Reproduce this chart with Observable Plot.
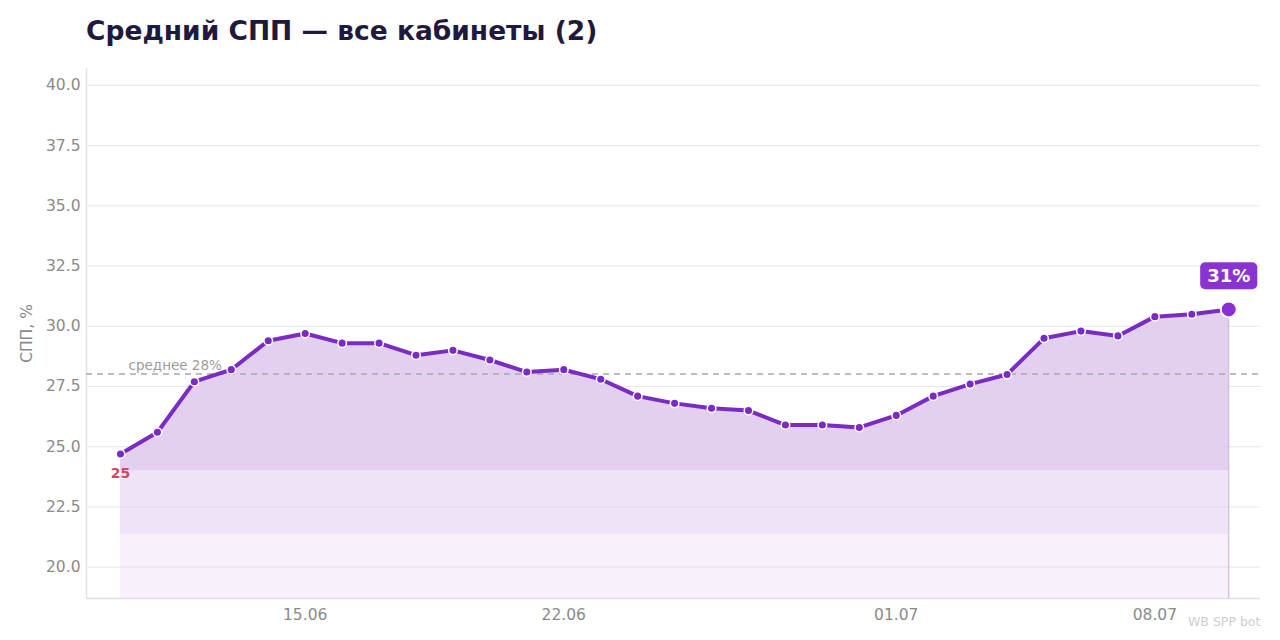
<!DOCTYPE html>
<html><head><meta charset="utf-8">
<script src="https://cdn.jsdelivr.net/npm/d3@7"></script>
<script src="https://cdn.jsdelivr.net/npm/@observablehq/plot@0.6"></script>
<style>
body{margin:0;background:#fff;font-family:"DejaVu Sans",sans-serif;}
#wrap{position:relative;width:1280px;height:640px;overflow:hidden;}
#title{position:absolute;left:86px;top:15px;font-weight:bold;font-size:26.5px;color:#1f1a3d;white-space:nowrap;}
#chart{position:absolute;left:0;top:60px;}
#wm{position:absolute;left:1188px;top:614px;font-size:12.5px;color:#cdcdcd;white-space:nowrap;}
</style></head><body>
<div id="wrap">
  <div id="title">Средний СПП — все кабинеты (2)</div>
  <div id="chart"></div>
  <div id="wm">WB SPP bot</div>
</div>
<script>
// ---- data ----
const dates = [
  "2025-06-10","2025-06-11","2025-06-12","2025-06-13","2025-06-14","2025-06-15","2025-06-16",
  "2025-06-17","2025-06-18","2025-06-19","2025-06-20","2025-06-21","2025-06-22","2025-06-23",
  "2025-06-24","2025-06-25","2025-06-26","2025-06-27","2025-06-28","2025-06-29","2025-06-30",
  "2025-07-01","2025-07-02","2025-07-03","2025-07-04","2025-07-05","2025-07-06","2025-07-07",
  "2025-07-08","2025-07-09","2025-07-10"
];
const values = [
  24.7, 25.6, 27.7, 28.2, 29.4, 29.7, 29.3,
  29.3, 28.8, 29.0, 28.6, 28.1, 28.2, 27.8,
  27.1, 26.8, 26.6, 26.5, 25.9, 25.9, 25.8,
  26.3, 27.1, 27.6, 28.0, 29.5, 29.8, 29.6,
  30.4, 30.5, 30.7
];
const xTickDates = ["2025-06-15","2025-06-22","2025-07-01","2025-07-08"];
const yTicks = [20, 22.5, 25, 27.5, 30, 32.5, 35, 37.5, 40];
const yDomain = [18.7, 40.7];
const bandBases = [18.7, 21.35, 24.0];
const yLabel = "СПП, %";
const meanPrefix = "среднее";

// ---- build ----
const parse = d3.utcParse("%Y-%m-%d");
const data = dates.map((d, i) => ({date: parse(d), v: values[i]}));
const first = data[0], last = data[data.length - 1];
const minPt = data.reduce((a, b) => (b.v < a.v ? b : a));
const mean = d3.mean(values);
const DAY = 864e5;
const xDomain = [new Date(first.date - 0.92 * DAY), new Date(+last.date + 0.86 * DAY)];
const bandFills = ["#f8f1fb", "#efe3f7", "#e3d0f1"];
const purple = "#7a2cc2";

const marks = [];
bandBases.forEach((b, i) => {
  marks.push(Plot.areaY(data, {x: "date", y1: () => b, y2: "v", fill: bandFills[i], curve: "linear"}));
});
marks.push(
  Plot.ruleY(yTicks, {stroke: "#d9d4e0", strokeOpacity: 0.6}),
  Plot.ruleX([xDomain[0]], {stroke: "#e4e2e8", strokeWidth: 1.5}),
  Plot.ruleY([yDomain[0]], {stroke: "#e2dbea", strokeWidth: 1.5}),
  Plot.ruleY([mean], {stroke: "#a8a8a8", strokeDasharray: "6,5", strokeWidth: 1.4}),
  Plot.text([mean], {y: d => d, frameAnchor: "left", dx: 42, dy: -8, textAnchor: "start",
    text: d => `${meanPrefix} ${Math.round(d)}%`, fill: "#9c9c9c", fontSize: 13.5}),
  Plot.ruleX([last], {x: "date", y1: () => yDomain[0], y2: "v", stroke: "#c2b2d3", strokeWidth: 1}),
  Plot.line(data, {x: "date", y: "v", stroke: purple, strokeWidth: 4, strokeLinejoin: "round", strokeLinecap: "round"}),
  Plot.dot(data.slice(0, -1), {x: "date", y: "v", r: 4.3, fill: purple, stroke: "white", strokeWidth: 1.5}),
  Plot.dot([last], {x: "date", y: "v", r: 8, fill: "#8a2fd6", stroke: "white", strokeWidth: 2}),
  Plot.text([last], {x: "date", y: "v", dy: -33, text: d => `${Math.round(d.v)}%`, fill: "white",
    fontWeight: "bold", fontSize: 18}),
  Plot.text([minPt], {x: "date", y: "v", dy: 20, text: d => `${Math.round(d.v)}`, fill: "#d4465c",
    fontWeight: "bold", fontSize: 14}),
  Plot.axisY(yTicks, {tickSize: 0, tickPadding: 6, tickFormat: d3.format(".1f"), fill: "#8a8a8a",
    fontSize: 15.5, label: yLabel, labelAnchor: "center", labelOffset: 66, labelArrow: "none"}),
  Plot.axisX(xTickDates.map(parse), {tickSize: 0, tickPadding: 10, tickFormat: d3.utcFormat("%d.%m"),
    fill: "#8a8a8a", fontSize: 15.5, label: null})
);

const chart = Plot.plot({
  width: 1280, height: 580,
  marginLeft: 86, marginRight: 20, marginTop: 8, marginBottom: 42,
  style: {fontFamily: "DejaVu Sans", fontSize: "15.5px", color: "#8a8a8a", background: "transparent", overflow: "visible"},
  x: {type: "utc", domain: xDomain},
  y: {domain: yDomain},
  marks
});
document.getElementById("chart").appendChild(chart);

// rounded badge behind the last-value label
const lastLabel = `${Math.round(last.v)}%`;
chart.querySelectorAll("text").forEach(t => {
  if (t.textContent === lastLabel) {
    const bb = t.getBBox();
    const r = document.createElementNS("http://www.w3.org/2000/svg", "rect");
    r.setAttribute("x", bb.x - 7); r.setAttribute("y", bb.y - 3);
    r.setAttribute("width", bb.width + 14); r.setAttribute("height", bb.height + 6);
    r.setAttribute("rx", 5); r.setAttribute("fill", "#8a33d3");
    const tr = t.getAttribute("transform");
    if (tr) r.setAttribute("transform", tr);
    t.parentNode.insertBefore(r, t);
  }
});
</script>
</body></html>
